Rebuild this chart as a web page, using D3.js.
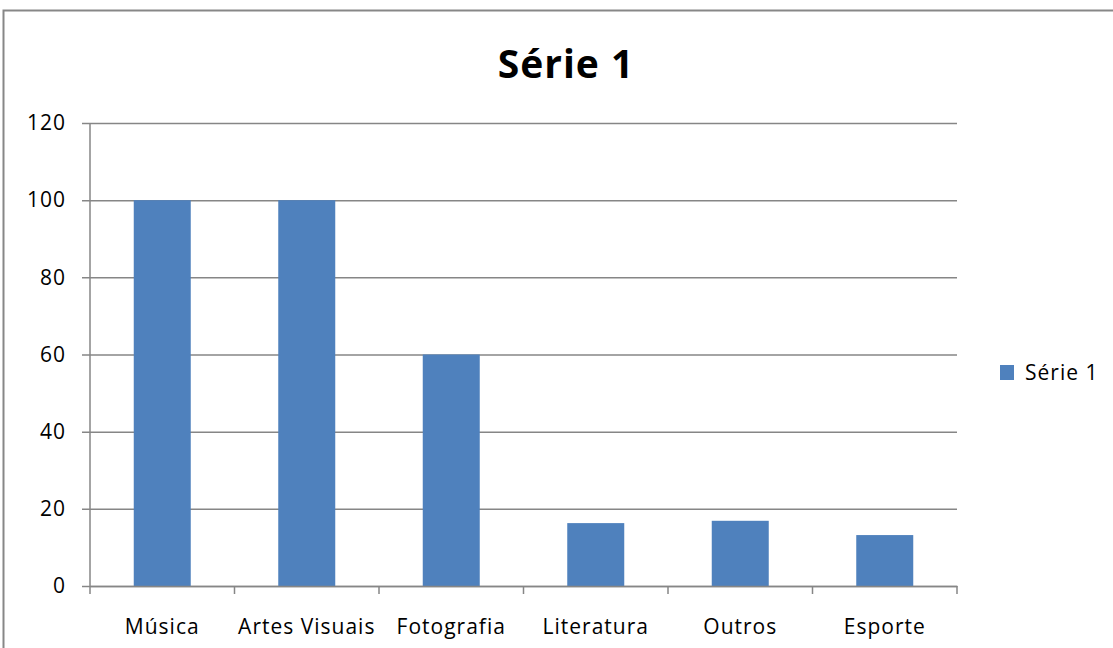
<!DOCTYPE html>
<html>
<head>
<meta charset="utf-8">
<script src="https://cdn.jsdelivr.net/npm/d3@7"></script>
<style>
  body { margin: 0; background: #fff; }
  text { font-family: "Open Sans", "Liberation Sans", sans-serif; }
</style>
</head>
<body>
<div id="chart"></div>
<script>
var categories = ["Música", "Artes Visuais", "Fotografia", "Literatura", "Outros", "Esporte"];
var values = [100, 100, 60, 16.3, 16.9, 13.2];
var yTicks = [0, 20, 40, 60, 80, 100, 120];
var seriesName = "Série 1";

var width = 1113, height = 648;
var margin = {top: 123, right: 156, bottom: 62, left: 90};

var svg = d3.select("#chart").append("svg")
    .attr("width", width)
    .attr("height", height);

// chart frame
svg.append("rect")
    .attr("x", 3.5).attr("y", 10.5)
    .attr("width", width + 10).attr("height", height + 10)
    .attr("fill", "#fff")
    .attr("stroke", "#878787")
    .attr("stroke-width", 2);

var x = d3.scaleBand()
    .domain(categories)
    .range([margin.left, width - margin.right]);

var y = d3.scaleLinear()
    .domain([0, 120])
    .range([height - margin.bottom, margin.top]);

// gridlines + y axis
var yAxis = svg.append("g")
    .attr("transform", `translate(${margin.left},0)`)
    .call(d3.axisLeft(y).tickValues(yTicks)
        .tickSizeInner(-(width - margin.right - margin.left)));
yAxis.select(".domain").remove();
yAxis.selectAll(".tick line")
    .attr("x1", -8)
    .attr("stroke", "#868686").attr("stroke-width", 1.5);
yAxis.selectAll(".tick text")
    .attr("x", -24)
    .attr("fill", "#000")
    .style("font-size", "21px")
    .style("letter-spacing", "1px");

svg.append("line")
    .attr("x1", margin.left).attr("x2", margin.left)
    .attr("y1", margin.top).attr("y2", height - margin.bottom)
    .attr("stroke", "#868686").attr("stroke-width", 1.5);

// bars
var barW = 57;
svg.append("g").selectAll("rect")
    .data(values)
    .join("rect")
    .attr("x", (d, i) => x(categories[i]) + (x.bandwidth() - barW) / 2)
    .attr("width", barW)
    .attr("y", d => y(d))
    .attr("height", d => y(0) - y(d))
    .attr("fill", "#4F81BD");

// x axis
var xAxis = svg.append("g")
    .attr("transform", `translate(0,${height - margin.bottom})`)
    .call(d3.axisBottom(x).tickSize(0).tickPadding(33));
xAxis.select(".domain")
    .attr("stroke", "#868686").attr("stroke-width", 1.5);
xAxis.selectAll(".tick text")
    .attr("fill", "#000")
    .style("font-size", "21px")
    .style("letter-spacing", "1px");

// category boundary ticks
var bounds = categories.map(c => x(c)).concat([width - margin.right]);
svg.append("g").selectAll("line")
    .data(bounds)
    .join("line")
    .attr("x1", d => d).attr("x2", d => d)
    .attr("y1", height - margin.bottom).attr("y2", height - margin.bottom + 8)
    .attr("stroke", "#868686").attr("stroke-width", 1.5);

// title
svg.append("text")
    .attr("x", 566).attr("y", 78)
    .attr("text-anchor", "middle")
    .style("font-size", "39px")
    .style("font-weight", "bold")
    .style("letter-spacing", "1px")
    .text(seriesName);

// legend
var legend = svg.append("g").attr("transform", "translate(1000,365)");
legend.append("rect")
    .attr("width", 14).attr("height", 15)
    .attr("fill", "#4F81BD");
legend.append("text")
    .attr("x", 25).attr("y", 15)
    .style("font-size", "21px")
    .style("letter-spacing", "1px")
    .text(seriesName);
</script>
</body>
</html>
